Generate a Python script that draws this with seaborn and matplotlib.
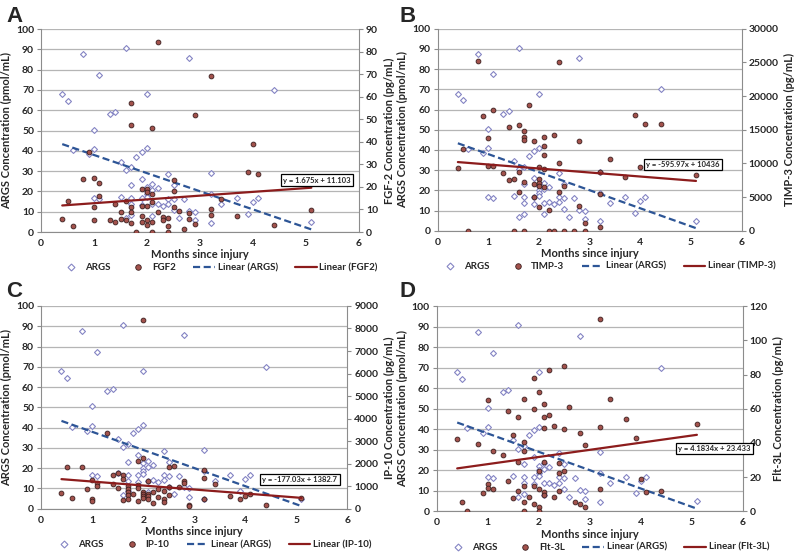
import numpy as np
import matplotlib
matplotlib.use('Agg')
import matplotlib.pyplot as plt
import seaborn as sns
from matplotlib.lines import Line2D

# ARGS (same patients in every panel), left axis
args_m = [0.4, 0.5, 0.6, 0.8, 0.9, 1.0, 1.0, 1.0, 1.1, 1.1, 1.3, 1.4, 1.5, 1.5, 1.6, 1.6, 1.6,
          1.7, 1.7, 1.7, 1.7, 1.7, 1.8, 1.9, 1.9, 1.9, 1.9, 2.0, 2.0, 2.0, 2.0, 2.0, 2.0,
          2.1, 2.1, 2.1, 2.1, 2.2, 2.2, 2.3, 2.4, 2.4, 2.4, 2.5, 2.5, 2.5, 2.6, 2.7, 2.8, 2.8,
          2.9, 2.9, 3.2, 3.2, 3.2, 3.4, 3.7, 3.9, 4.0, 4.1, 4.4, 5.1]
args_v = [67.8, 64.6, 40.4, 87.7, 38.4, 50.5, 41.0, 16.6, 77.4, 16.2, 58.0, 59.2, 34.6, 17.4,
          90.7, 30.6, 6.8, 31.8, 23.1, 16.6, 13.8, 8.5, 37.2, 39.5, 26.3, 16.6, 13.4,
          67.9, 41.2, 22.3, 20.0, 18.5, 17.2, 23.5, 20.5, 13.8, 8.1, 21.6, 14.0, 13.0,
          28.4, 16.5, 14.0, 23.2, 16.3, 10.7, 7.0, 16.2, 85.6, 10.5, 10.0, 6.0, 28.9, 18.6,
          4.6, 13.8, 16.7, 8.8, 14.6, 16.7, 70.0, 5.0]
args_fit = (-8.94, 46.88)

# FGF2 (pg/mL)
fgf2_m = [0.4, 0.5, 0.6, 0.8, 0.9, 1.0, 1.0, 1.0, 1.1, 1.1, 1.3, 1.4, 1.4, 1.5, 1.5, 1.6, 1.6,
          1.7, 1.7, 1.7, 1.7, 1.7, 1.8, 1.9, 1.9, 1.9, 1.9, 2.0, 2.0, 2.0, 2.0, 2.0,
          2.1, 2.1, 2.1, 2.1, 2.1, 2.2, 2.2, 2.3, 2.3, 2.4, 2.4, 2.4, 2.5, 2.5, 2.5, 2.6, 2.7,
          2.8, 2.8, 2.9, 2.9, 3.2, 3.2, 3.2, 3.4, 3.7, 3.9, 4.0, 4.1, 4.4, 5.1]
fgf2_v = [5.9, 13.6, 2.8, 23.3, 35.3, 23.9, 11.1, 5.5, 21.9, 16.1, 5.2, 12.4, 4.6, 8.7, 5.8,
          13.6, 5.3, 57.1, 47.4, 11.2, 8.7, 3.9, 0.2, 19.1, 11.7, 7.1, 4.6, 18.9, 17.6, 11.7,
          5.3, 3.1, 45.9, 16.7, 13.5, 4.3, 0.2, 84.1, 8.7, 6.8, 5.3, 6.0, 2.7, 0.2, 22.9, 18.3,
          11.0, 9.3, 1.2, 8.6, 5.9, 51.9, 3.5, 69.2, 10.2, 7.5, 14.6, 6.9, 26.6, 38.9, 25.9,
          3.1, 9.6]
fgf2_fit = (1.675, 11.103)

# TIMP-3 (pg/mL)
timp3_m = [0.4, 0.5, 0.6, 0.8, 0.9, 1.0, 1.0, 1.1, 1.1, 1.3, 1.4, 1.4, 1.5, 1.5, 1.6, 1.6, 1.6,
           1.7, 1.7, 1.7, 1.7, 1.7, 1.8, 1.9, 1.9, 1.9, 2.0, 2.0, 2.0, 2.0, 2.0,
           2.1, 2.1, 2.1, 2.1, 2.1, 2.2, 2.2, 2.3, 2.3, 2.4, 2.4, 2.4, 2.5, 2.5, 2.7, 2.8, 2.8,
           2.9, 2.9, 3.2, 3.2, 3.2, 3.4, 3.7, 3.9, 4.0, 4.1, 4.4, 5.1]
timp3_v = [9360, 12080, 0, 25150, 16980, 13810, 9650, 9650, 17870, 8610, 15350, 7570, 7720, 0,
           15690, 8710, 5690, 14800, 13960, 13420, 7230, 0, 18660, 13320, 6930, 5050,
           9500, 7620, 7130, 6630, 3560, 13960, 12620, 11290, 9110, 6530, 3020, 0, 14210, 0,
           10100, 25000, 5740, 6630, 0, 0, 13370, 3710, 1190, 0, 8710, 5400, 590, 10690,
           7920, 17230, 9460, 15890, 15790, 8320]
timp3_fit = (-595.97, 10436)

# IP-10 (pg/mL)
ip10_m = [0.4, 0.5, 0.6, 0.8, 0.9, 1.0, 1.0, 1.0, 1.1, 1.1, 1.3, 1.4, 1.4, 1.5, 1.5, 1.6, 1.6,
          1.6, 1.7, 1.7, 1.7, 1.7, 1.7, 1.8, 1.9, 1.9, 1.9, 1.9, 2.0, 2.0, 2.0, 2.0, 2.0, 2.0,
          2.1, 2.1, 2.1, 2.1, 2.2, 2.2, 2.3, 2.3, 2.4, 2.4, 2.4, 2.5, 2.5, 2.5, 2.6, 2.7,
          2.8, 2.8, 2.9, 2.9, 3.2, 3.2, 3.2, 3.4, 3.7, 3.9, 4.0, 4.1, 4.4, 5.1]
ip10_v = [695, 1850, 474, 1835, 888, 1273, 414, 340, 1125, 1006, 3360, 1080, 1495, 1570, 932,
          1495, 1302, 400, 992, 873, 729, 603, 441, 648, 2133, 1053, 936, 351, 8395, 2268,
          756, 648, 549, 459, 1242, 648, 549, 441, 756, 270, 855, 504, 774, 414, 315, 1836,
          981, 603, 1890, 981, 1233, 1152, 162, 108, 1719, 1377, 432, 1098, 558, 441, 576,
          666, 180, 477]
ip10_fit = (-177.03, 1382.7)

# Flt-3L (pg/mL)
flt3l_m = [0.4, 0.5, 0.6, 0.8, 0.9, 1.0, 1.0, 1.0, 1.1, 1.1, 1.3, 1.4, 1.4, 1.5, 1.5, 1.6, 1.6,
           1.6, 1.7, 1.7, 1.7, 1.7, 1.7, 1.7, 1.8, 1.9, 1.9, 1.9, 1.9, 2.0, 2.0, 2.0, 2.0, 2.0,
           2.1, 2.1, 2.1, 2.1, 2.1, 2.1, 2.2, 2.2, 2.3, 2.3, 2.4, 2.4, 2.4, 2.5, 2.5, 2.5,
           2.6, 2.7, 2.8, 2.8, 2.9, 2.9, 3.2, 3.2, 3.2, 3.4, 3.7, 3.9, 4.0, 4.1, 4.4, 5.1]
flt3l_v = [42.1, 5.5, 0.2, 39.6, 10.9, 65.0, 15.8, 13.9, 35.3, 13.1, 33.0, 58.9, 17.8, 44.9,
           7.6, 55.2, 28.9, 12.1, 65.6, 40.8, 35.3, 15.0, 5.7, 0.0, 8.4, 78.0, 60.0, 15.0, 4.3,
           69.9, 23.8, 13.3, 2.7, 0.0, 63.0, 55.4, 49.0, 28.9, 11.5, 9.6, 82.7, 56.2, 50.0,
           8.2, 28.2, 22.7, 11.8, 84.9, 48.4, 23.8, 61.1, 5.7, 46.0, 4.3, 38.6, 2.5, 112.4,
           49.2, 12.9, 66.0, 54.0, 42.9, 18.7, 11.5, 11.9, 51.1]
flt3l_fit = (4.1834, 23.433)

sns.set_style('white')
plt.rcParams['font.family'] = ['Lato', 'DejaVu Sans']

ARGS_EC = '#8585c4'
DOT_FC = '#a3524c'
DOT_EC = '#3b1f1f'
BLUE = '#2d5596'
RED = '#8c1c1c'
GREY = '#8c8c8c'

panels = [
    dict(tag='A', name='FGF2', rlabel='FGF-2 Concentration (pg/mL)', m=fgf2_m, v=fgf2_v,
         fit=fgf2_fit, ymax=90, step=10, eq='y = 1.675x + 11.103', eqxy=(5.2, 25.6),
         rect=(0.0513, 0.5827, 0.3975, 0.3651), tagxy=(0.008, 0.99)),
    dict(tag='B', name='TIMP-3', rlabel='TIMP-3 Concentration (pg/mL)', m=timp3_m, v=timp3_v,
         fit=timp3_fit, ymax=30000, step=5000, eq='y = -595.97x + 10436', eqxy=(4.84, 32.8),
         rect=(0.547, 0.585, 0.38, 0.3633), tagxy=(0.499, 0.99)),
    dict(tag='C', name='IP-10', rlabel='IP-10 Concentration (pg/mL)', m=ip10_m, v=ip10_v,
         fit=ip10_fit, ymax=9000, step=1000, eq='y = -177.03x + 1382.7', eqxy=(5.07, 14.4),
         rect=(0.0513, 0.0851, 0.3829, 0.3646), tagxy=(0.008, 0.495)),
    dict(tag='D', name='Flt-3L', rlabel='Flt-3L Concentration (pg/mL)', m=flt3l_m, v=flt3l_v,
         fit=flt3l_fit, ymax=120, step=20, eq='y = 4.1834x + 23.433', eqxy=(5.44, 30.6),
         rect=(0.546, 0.0804, 0.3825, 0.3687), tagxy=(0.499, 0.495)),
]

fig = plt.figure(figsize=(8, 5.56), dpi=100)

for p in panels:
    ax = fig.add_axes(p['rect'])
    ax.set_xlim(0, 6)
    ax.set_ylim(0, 100)
    ax.set_xticks(range(0, 7))
    ax.set_yticks(range(0, 101, 10))
    ax.yaxis.grid(True, color='#b5b5b5', lw=0.9)
    ax.set_axisbelow(True)

    sns.scatterplot(x=args_m, y=args_v, ax=ax, marker='D', s=9, color='white',
                    edgecolor=ARGS_EC, linewidth=0.8, zorder=3)
    xa = np.array([min(args_m), max(args_m)])
    ax.plot(xa, args_fit[0] * xa + args_fit[1], ls='--', dashes=(3.2, 1.6), color=BLUE,
            lw=1.6, zorder=4)

    ax2 = ax.twinx()
    ax2.set_ylim(0, p['ymax'])
    ax2.set_yticks(np.arange(0, p['ymax'] + 1, p['step']))
    sns.scatterplot(x=p['m'], y=p['v'], ax=ax2, marker='o', s=12, color=DOT_FC,
                    edgecolor=DOT_EC, linewidth=0.6, zorder=3)
    xc = np.array([min(p['m']), max(p['m'])])
    ax2.plot(xc, p['fit'][0] * xc + p['fit'][1], color=RED, lw=1.6, zorder=4)

    ax2.text(p['eqxy'][0], p['eqxy'][1], p['eq'], transform=ax.transData, ha='center',
             va='center', fontsize=5.5, fontweight='bold', zorder=10, clip_on=False,
             bbox=dict(boxstyle='square,pad=0.3', fc='white', ec='black', lw=0.9))

    for s in ['top', 'right']:
        ax.spines[s].set_visible(False)
    for s in ['top', 'left', 'bottom']:
        ax2.spines[s].set_visible(False)
    for s in ['left', 'bottom']:
        ax.spines[s].set_color(GREY)
    ax2.spines['right'].set_color(GREY)

    for a in (ax, ax2):
        a.tick_params(direction='out', length=3, width=0.8, color=GREY, labelsize=7.5, pad=2)
        for lab in a.get_xticklabels() + a.get_yticklabels():
            lab.set_fontweight('bold')

    ax.set_xlabel('Months since injury', fontsize=8, fontweight='bold', labelpad=1)
    ax.set_ylabel('ARGS Concentration (pmol/mL)', fontsize=8, fontweight='bold', labelpad=3)
    ax2.set_ylabel(p['rlabel'], fontsize=8, fontweight='bold', labelpad=4)

    handles = [
        Line2D([], [], marker='D', ls='none', mfc='white', mec=ARGS_EC, ms=3.5, mew=0.8),
        Line2D([], [], marker='o', ls='none', mfc=DOT_FC, mec=DOT_EC, ms=4, mew=0.6),
        Line2D([], [], ls='--', dashes=(3.2, 1.6), color=BLUE, lw=1.6),
        Line2D([], [], color=RED, lw=1.6),
    ]
    labels = ['ARGS', p['name'], 'Linear (ARGS)', 'Linear (%s)' % p['name']]
    leg = ax2.legend(handles, labels, loc='upper center', bbox_to_anchor=(0.56, -0.135),
                     ncol=4, frameon=False, fontsize=7, handlelength=2.2, columnspacing=1.8,
                     handletextpad=0.3, borderaxespad=0)
    for t in leg.get_texts():
        t.set_fontweight('bold')

    fig.text(p['tagxy'][0], p['tagxy'][1], p['tag'], fontsize=16, fontweight='bold',
             family='Liberation Sans', ha='left', va='top')

fig.savefig('out.png', dpi=100)
